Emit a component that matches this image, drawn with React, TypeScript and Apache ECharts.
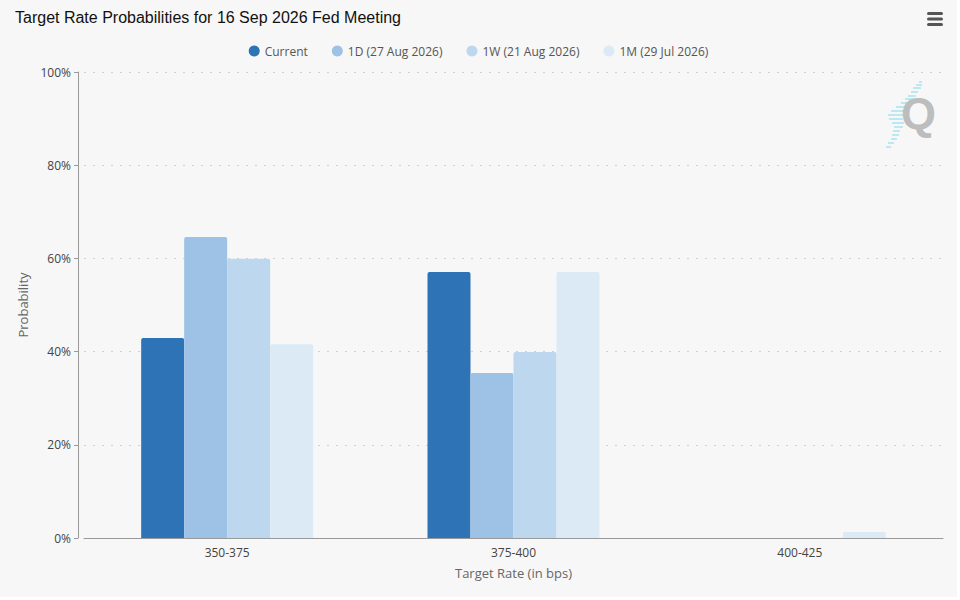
import React, { useEffect, useRef } from "react";
import * as echarts from "echarts";

const categories = ["350-375", "375-400", "400-425"];
const seriesNames = ["Current", "1D (27 Aug 2026)", "1W (21 Aug 2026)", "1M (29 Jul 2026)"];
const currentValues = [42.9, 57.1, 0];
const oneDayValues = [64.6, 35.4, 0];
const oneWeekValues = [59.9, 39.9, 0];
const oneMonthValues = [41.6, 57.1, 1.3];
const seriesColors = ["#2e73b6", "#9dc2e6", "#bdd7ee", "#dceaf6"];

const LABEL_FONT = "'Open Sans', 'DejaVu Sans', sans-serif";

// streak rows of the logo: [y, x1, x2]
const logoStreaks = [
  [82, 919, 922], [85, 916, 922], [88, 913, 921], [92, 911, 918],
  [96, 908, 916], [99, 905, 914], [103, 901, 913], [107, 896, 909],
  [111, 891, 907], [115, 888, 905], [119, 889, 903], [123, 892, 904],
  [127, 894, 903], [131, 893, 900], [135, 892, 899], [139, 891, 897],
  [143, 888, 894], [147, 886, 891],
];

const App: React.FC = () => {
  const chartRef = useRef<HTMLDivElement>(null);

  useEffect(() => {
    if (!chartRef.current) return;
    const chart = echarts.init(chartRef.current, undefined, { renderer: "svg" });

    const allValues = [currentValues, oneDayValues, oneWeekValues, oneMonthValues];

    const streaks = logoStreaks.map(([y, x1, x2]) => ({
      type: "line",
      shape: { x1, y1: y, x2, y2: y },
      style: { stroke: "#a9e3f1", lineWidth: 1.5 },
      silent: true,
    }));

    const option = {
      animation: false,
      backgroundColor: "#f7f7f7",
      title: {
        text: "Target Rate Probabilities for 16 Sep 2026 Fed Meeting",
        left: 10,
        top: 4,
        textStyle: {
          fontFamily: "'Liberation Sans', Arial, sans-serif",
          fontSize: 16,
          fontWeight: "normal",
          color: "#111",
        },
      },
      legend: {
        data: seriesNames,
        left: "center",
        top: 40,
        icon: "circle",
        itemWidth: 11,
        itemHeight: 11,
        itemGap: 24,
        textStyle: {
          fontFamily: LABEL_FONT,
          fontSize: 12,
          color: "#555",
        },
      },
      grid: {
        left: 84,
        right: 14,
        top: 72,
        bottom: 59,
      },
      xAxis: {
        type: "category",
        data: categories,
        name: "Target Rate (in bps)",
        nameLocation: "middle",
        nameGap: 28,
        nameTextStyle: {
          fontFamily: LABEL_FONT,
          fontSize: 13,
          color: "#666",
        },
        axisLine: { lineStyle: { color: "#999", width: 1 } },
        axisTick: { alignWithLabel: true, length: 8, lineStyle: { color: "#ccd6eb" } },
        axisLabel: {
          fontFamily: LABEL_FONT,
          fontSize: 12,
          color: "#444",
          margin: 8,
        },
      },
      yAxis: {
        type: "value",
        min: 0,
        max: 100,
        interval: 20,
        offset: 6,
        name: "Probability",
        nameLocation: "middle",
        nameGap: 49,
        nameTextStyle: {
          fontFamily: LABEL_FONT,
          fontSize: 13,
          color: "#666",
        },
        axisLine: { show: true, lineStyle: { color: "#999", width: 1 } },
        axisTick: { show: true, length: 4, lineStyle: { color: "#999" } },
        axisLabel: {
          formatter: "{value}%",
          fontFamily: LABEL_FONT,
          fontSize: 12,
          color: "#444",
          margin: 7,
        },
        splitLine: {
          show: true,
          lineStyle: { color: "#d0d0d0", type: [2, 7], width: 1 },
        },
      },
      series: seriesNames.map((name, i) => ({
        name,
        type: "bar",
        data: allValues[i],
        barWidth: 43,
        barGap: "0%",
        itemStyle: {
          color: seriesColors[i],
          borderRadius: [2, 2, 0, 0],
        },
      })),
      graphic: [
        // menu icon
        { type: "rect", shape: { x: 927, y: 12, width: 16, height: 3, r: 1.5 }, style: { fill: "#555" } },
        { type: "rect", shape: { x: 927, y: 17.5, width: 16, height: 3, r: 1.5 }, style: { fill: "#555" } },
        { type: "rect", shape: { x: 927, y: 23, width: 16, height: 3, r: 1.5 }, style: { fill: "#555" } },
        // logo
        ...streaks,
        {
          type: "text",
          left: 901,
          top: 91,
          silent: true,
          style: {
            text: "Q",
            fontFamily: "'Liberation Sans', Arial, sans-serif",
            fontWeight: "bold",
            fontSize: 45,
            fill: "#bdbdbd",
          },
        },
      ],
    };

    chart.setOption(option);

    return () => {
      chart.dispose();
    };
  }, []);

  return (
    <div
      ref={chartRef}
      style={{
        position: "absolute",
        left: 0,
        top: 0,
        width: "957px",
        height: "597px",
      }}
    />
  );
};

export default App;
